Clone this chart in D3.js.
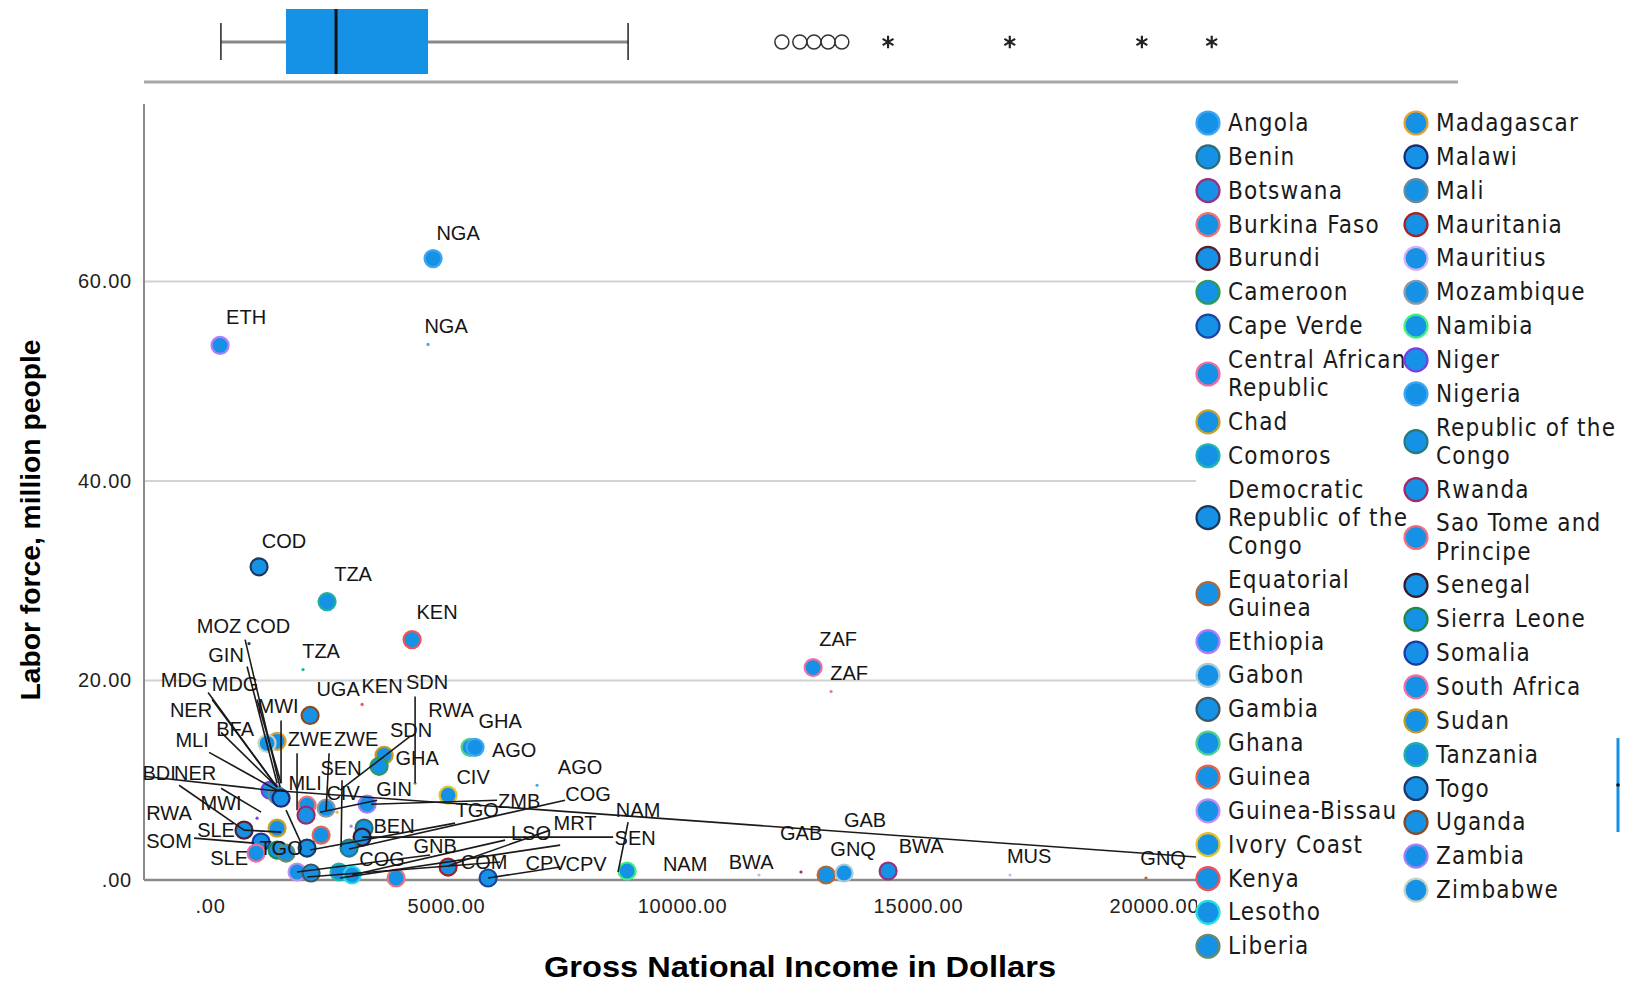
<!DOCTYPE html>
<html>
<head>
<meta charset="utf-8">
<script src="https://cdn.jsdelivr.net/npm/d3@7"></script>
<style>
body { margin: 0; background: #fff; }
svg { display: block; font-family: "Liberation Sans", Arial, sans-serif; }
.leg { font-family: "DejaVu Sans Condensed", "DejaVu Sans", sans-serif; font-size: 24px; font-stretch: condensed; letter-spacing: 1.2px; fill: #1a1a1a; }
</style>
</head>
<body>
<svg width="1633" height="984"></svg>
<script>
// legend entries, in legend order
const countries = ["Angola", "Benin", "Botswana", "Burkina Faso", "Burundi", "Cameroon", "Cape Verde",
    "Central African Republic", "Chad", "Comoros", "Democratic Republic of the Congo", "Equatorial Guinea",
    "Ethiopia", "Gabon", "Gambia", "Ghana", "Guinea", "Guinea-Bissau", "Ivory Coast", "Kenya", "Lesotho", "Liberia",
    "Madagascar", "Malawi", "Mali", "Mauritania", "Mauritius", "Mozambique", "Namibia", "Niger", "Nigeria",
    "Republic of the Congo", "Rwanda", "Sao Tome and Principe", "Senegal", "Sierra Leone", "Somalia",
    "South Africa", "Sudan", "Tanzania", "Togo", "Uganda", "Zambia", "Zimbabwe"];
const codes = ["AGO", "BEN", "BWA", "BFA", "BDI", "CMR", "CPV", "CAF", "TCD", "COM", "COD", "GNQ", "ETH", "GAB",
    "GMB", "GHA", "GIN", "GNB", "CIV", "KEN", "LSO", "LBR", "MDG", "MWI", "MLI", "MRT", "MUS", "MOZ", "NAM", "NER",
    "NGA", "COG", "RWA", "STP", "SEN", "SLE", "SOM", "ZAF", "SDN", "TZA", "TGO", "UGA", "ZMB", "ZWE"];

// main series (large markers)
const bigCode = ["NGA", "ETH", "COD", "TZA", "KEN", "ZAF", "UGA", "MDG", "ZWE", "GHA", "AGO", "SDN", "CMR", "NER",
    "MLI", "MWI", "BFA", "RWA", "MOZ", "ZMB", "CIV", "BDI", "TCD", "GIN", "BEN", "SEN", "SOM", "CAF", "SLE", "LBR",
    "TGO", "GNB", "GMB", "COG", "COM", "LSO", "STP", "MRT", "CPV", "NAM", "GNQ", "GAB", "BWA"];
const bigGni = [4725, 212, 1038, 2479, 4280, 12778, 2119, 1420, 1208, 5509, 5615, 3687, 3581, 1271,
    1420, 1504, 2055, 2034, 2458, 3327, 5043, 720, 1420, 2352, 3263, 3221, 1081, 975, 1420, 1610,
    2055, 1843, 2140, 2945, 2733, 3009, 3941, 5043, 5891, 8836, 13053, 13434, 14366];
const bigLabor = [62.3, 53.6, 31.4, 27.9, 24.1, 21.3, 16.5, 13.9, 13.7, 13.3, 13.3, 12.5, 11.4, 9.0,
    8.5, 8.2, 7.5, 6.5, 7.2, 7.6, 8.5, 5.0, 5.2, 4.5, 5.2, 4.3, 3.8, 2.7, 3.0, 2.7,
    3.2, 0.8, 0.7, 3.2, 0.8, 0.5, 0.2, 1.3, 0.2, 0.9, 0.5, 0.7, 0.9];

// second series (tiny markers)
const smallCode = ["NGA", "ZAF", "AGO", "TZA", "KEN", "COD", "MUS", "GNQ", "BWA", "GAB", "SDN", "NER", "RWA", "CIV", "ZMB"];
const smallGni = [4619, 13158, 6929, 1970, 3221, 826, 16950, 19830, 12520, 11630, 4344, 996, 1504, 2691, 2988];
const smallLabor = [53.7, 18.9, 9.5, 21.1, 17.6, 23.7, 0.5, 0.2, 0.8, 0.5, 9.7, 6.2, 4.8, 6.8, 5.4];

// point labels, placed in data units
const labelText = ["NGA", "NGA", "ETH", "COD", "TZA", "KEN", "ZAF", "ZAF", "MOZ", "COD", "TZA", "GIN", "MDG", "MDG",
    "UGA", "KEN", "SDN", "MWI", "NER", "RWA", "GHA", "BFA", "SDN", "ZWE", "ZWE", "MLI", "AGO", "GHA", "SEN", "AGO",
    "BDI", "NER", "CIV", "MLI", "CIV", "GIN", "COG", "ZMB", "TGO", "NAM", "MWI", "RWA", "MRT", "BEN", "SLE", "LSO",
    "SEN", "SOM", "GNB", "TGO", "GAB", "GAB", "SLE", "COG", "COM", "CPV", "CPV", "NAM", "BWA", "GNQ", "BWA", "MUS", "GNQ"];
const labelGni = [5255, 5001, 763, 1568, 3030, 4810, 13307, 13540, 191, 1229, 2352, 339, -551, 530,
    2712, 3645, 4598, 1441, -403, 5107, 6145, 530, 4259, 2119, 3094, -381, 6442, 4386, 2776, 7840,
    -1080, -318, 5573, 2013, 2818, 3899, 8010, 6548, 5658, 9069, 233, -869, 7734, 3899, 127, 6802,
    9006, -869, 4768, 1504, 12523, 13879, 403, 3645, 5806, 7120, 7967, 10065, 11463, 13625, 15066, 17355, 20194];
const labelLabor = [64.9, 55.5, 56.4, 34.0, 30.7, 26.9, 24.2, 20.8, 25.5, 25.5, 23.0, 22.6, 20.1, 19.7,
    19.1, 19.4, 19.9, 17.4, 17.0, 17.0, 15.9, 15.1, 15.0, 14.1, 14.1, 14.0, 13.0, 12.2, 11.2, 11.3,
    10.7, 10.7, 10.3, 9.7, 8.7, 9.1, 8.6, 7.9, 7.0, 7.0, 7.7, 6.7, 5.7, 5.4, 5.0, 4.7,
    4.2, 3.9, 3.4, 3.2, 4.7, 6.0, 2.2, 2.1, 1.8, 1.7, 1.6, 1.6, 1.8, 3.1, 3.4, 2.4, 2.2];

// leader lines [gni0, labor0, gni1, labor1]
const leaders = [
    [-1399, 10.4, 1271, 9.0], [1271, 9.0, 20893, 2.3], [6081, 8.0, 3412, 7.6], [5192, 5.7, 2119, 3.0],
    [8540, 4.3, 3221, 4.3], [7522, 8.0, 2945, 3.1], [6251, 4.0, 3009, 0.5], [7205, 5.0, 5043, 1.4],
    [4662, 2.5, 1843, 0.8], [7417, 1.3, 5891, 0.2], [8857, 5.8, 8645, 0.8], [3539, 8.0, 2331, 6.8],
    [4344, 18.4, 4344, 9.7], [4238, 14.4, 2755, 9.0], [742, 24.1, 1483, 9.3], [784, 21.4, 1420, 9.7],
    [-42, 18.8, 1420, 9.3], [42, 18.1, 1420, 9.3], [-21, 12.8, 1420, 9.0], [233, 14.8, 1420, 9.3],
    [996, 18.1, 1504, 9.7], [1504, 16.0, 1504, 9.7], [1843, 12.7, 1843, 7.0], [2522, 12.7, 2458, 7.0],
    [2797, 10.0, 2776, 3.3], [-657, 9.5, 720, 5.0], [233, 9.2, 1081, 6.8], [720, 5.0, 1504, 4.8],
    [-339, 4.2, 932, 3.7], [1610, 7.0, 1928, 3.7], [2055, 0.3, 6145, 1.8], [2755, 0.2, 7417, 3.5]
];

// box plot of income: min, Q1, median, Q3, upper whisker, outliers, extremes
const boxStats = [230, 1610, 2670, 4620, 8860];
const boxOutliers = [12120, 12500, 12800, 13100, 13390];
const boxExtremes = [14370, 16950, 19750, 21230];

const xTicks = [0, 5000, 10000, 15000, 20000];
const yTicks = [0, 20, 40, 60];

// outline colour per legend entry
const outlineColors = ["#3fa6f2", "#2b6e78", "#9b2f7d", "#f07272", "#5a1f2e", "#2e9a5a", "#1d45a0", "#f06ba0",
    "#c9a12c", "#22b3b3", "#1b3a5a", "#b0683a", "#b27dff", "#a8cbd8", "#3b5966", "#4fd08e", "#e4674f", "#c08ff2",
    "#e3c22c", "#f25252", "#22e0e0", "#6b8a6a", "#e3a02c", "#1b2b7a", "#6b8a99", "#a82020", "#d6b2f2", "#8b9aa8",
    "#3ff07e", "#7a3fe3", "#3fa6f2", "#2a7a7a", "#a02a6a", "#f27080", "#3a1a2a", "#1f8a4a", "#1b3aa6", "#f070a0",
    "#c29a1e", "#1fb0a0", "#1b3a6a", "#8a4a20", "#a27ff2", "#c4d4c4"];
const fillBlue = "#1591e6";
const colorOf = {};
codes.forEach((c, i) => colorOf[c] = outlineColors[i]);

let svg = d3.select("svg");

let x = d3.scaleLinear().domain([-1400, 20890]).range([144, 1196]);
let y = d3.scaleLinear().domain([0, 77.8]).range([880, 104]);
let xBox = d3.scaleLinear().domain([-1400, 26450]).range([144, 1458]);

let fmt = d => d === 0 ? ".00" : d3.format(".2f")(d);

// gridlines
svg.append("g").selectAll("line")
    .data(yTicks.filter(d => d > 0))
    .enter().append("line")
    .attr("x1", x.range()[0]).attr("x2", x.range()[1])
    .attr("y1", d => y(d)).attr("y2", d => y(d))
    .attr("stroke", "#d2d2d2").attr("stroke-width", 2);

// axes
let xAxis = svg.append("g")
    .attr("transform", "translate(0," + y(0) + ")")
    .call(d3.axisBottom(x).tickValues(xTicks).tickFormat(fmt).tickSize(0).tickPadding(19));
let yAxis = svg.append("g")
    .attr("transform", "translate(" + x.range()[0] + ",0)")
    .call(d3.axisLeft(y).tickValues(yTicks).tickFormat(fmt).tickSize(0).tickPadding(12));
[xAxis, yAxis].forEach(a => {
    a.select(".domain").remove();
    a.selectAll("text").attr("font-size", 20).attr("letter-spacing", "0.8px")
        .attr("fill", "#222").attr("font-family", "Liberation Sans, Arial, sans-serif");
});
svg.append("line")
    .attr("x1", x.range()[0]).attr("x2", x.range()[0])
    .attr("y1", y.range()[1]).attr("y2", y(0))
    .attr("stroke", "#8a8a8a").attr("stroke-width", 2);
svg.append("line")
    .attr("x1", x.range()[0]).attr("x2", x.range()[1])
    .attr("y1", y(0)).attr("y2", y(0))
    .attr("stroke", "#8a8a8a").attr("stroke-width", 2.5);

// tiny markers
svg.append("g").selectAll("circle")
    .data(smallCode)
    .enter().append("circle")
    .attr("cx", (d, i) => x(smallGni[i]))
    .attr("cy", (d, i) => y(smallLabor[i]))
    .attr("r", 1.6)
    .attr("fill", d => colorOf[d]);

// big markers
svg.append("g").selectAll("circle")
    .data(bigCode)
    .enter().append("circle")
    .attr("cx", (d, i) => x(bigGni[i]))
    .attr("cy", (d, i) => y(bigLabor[i]))
    .attr("r", 8.5)
    .attr("fill", fillBlue)
    .attr("stroke", d => colorOf[d])
    .attr("stroke-width", 2.2);

// leader lines
svg.append("g").selectAll("line")
    .data(leaders)
    .enter().append("line")
    .attr("x1", d => x(d[0])).attr("y1", d => y(d[1]))
    .attr("x2", d => x(d[2])).attr("y2", d => y(d[3]))
    .attr("stroke", "#1a1a1a").attr("stroke-width", 1.6);

// point labels
svg.append("g").selectAll("text")
    .data(labelText)
    .enter().append("text")
    .attr("x", (d, i) => x(labelGni[i]))
    .attr("y", (d, i) => y(labelLabor[i]))
    .attr("text-anchor", "middle")
    .attr("dominant-baseline", "central")
    .attr("font-size", 20)
    .attr("fill", "#151515")
    .text(d => d);

// axis titles
svg.append("text")
    .attr("x", 800).attr("y", 977)
    .attr("text-anchor", "middle")
    .attr("font-size", 30).attr("font-weight", "bold")
    .attr("textLength", 512).attr("lengthAdjust", "spacingAndGlyphs")
    .text("Gross National Income in Dollars");
svg.append("text")
    .attr("transform", "translate(40,520) rotate(-90)")
    .attr("text-anchor", "middle")
    .attr("font-size", 28).attr("font-weight", "bold")
    .attr("textLength", 361).attr("lengthAdjust", "spacingAndGlyphs")
    .text("Labor force, million people");

// box plot on top
let bp = svg.append("g");
let bpY = 42;
bp.append("line")
    .attr("x1", xBox.range()[0]).attr("x2", xBox.range()[1])
    .attr("y1", 82).attr("y2", 82)
    .attr("stroke", "#a8a8a8").attr("stroke-width", 3);
bp.selectAll(".whisk")
    .data([[boxStats[0], boxStats[1]], [boxStats[3], boxStats[4]]])
    .enter().append("line")
    .attr("x1", d => xBox(d[0])).attr("x2", d => xBox(d[1]))
    .attr("y1", bpY).attr("y2", bpY)
    .attr("stroke", "#888").attr("stroke-width", 3);
bp.selectAll(".cap")
    .data([boxStats[0], boxStats[4]])
    .enter().append("line")
    .attr("x1", d => xBox(d)).attr("x2", d => xBox(d))
    .attr("y1", 23).attr("y2", 60)
    .attr("stroke", "#222").attr("stroke-width", 1.5);
bp.append("rect")
    .attr("x", xBox(boxStats[1]))
    .attr("width", xBox(boxStats[3]) - xBox(boxStats[1]))
    .attr("y", 9).attr("height", 65)
    .attr("fill", fillBlue);
bp.append("line")
    .attr("x1", xBox(boxStats[2])).attr("x2", xBox(boxStats[2]))
    .attr("y1", 9).attr("y2", 74)
    .attr("stroke", "#111").attr("stroke-width", 3);
bp.selectAll(".out")
    .data(boxOutliers)
    .enter().append("circle")
    .attr("cx", d => xBox(d)).attr("cy", bpY)
    .attr("r", 7)
    .attr("fill", "none").attr("stroke", "#333").attr("stroke-width", 1.5);
bp.selectAll(".ext")
    .data(boxExtremes)
    .enter().append("path")
    .attr("transform", d => "translate(" + xBox(d) + "," + bpY + ")")
    .attr("d", d3.symbol().type(d3.symbolAsterisk).size(110))
    .attr("fill", "none")
    .attr("stroke", "#222").attr("stroke-width", 2.2);

// legend
let legend = svg.append("g");
legend.append("rect")
    .attr("x", 1197).attr("y", 95)
    .attr("width", 436).attr("height", 889)
    .attr("fill", "#fff");

function wrapLines(name, maxW) {
    let words = name.split(" "), lines = [], line = [];
    let probe = legend.append("text").attr("class", "leg");
    words.forEach(w => {
        line.push(w);
        probe.text(line.join(" "));
        if (probe.node().getComputedTextLength() > maxW && line.length > 1) {
            line.pop();
            lines.push(line.join(" "));
            line = [w];
        }
    });
    lines.push(line.join(" "));
    probe.remove();
    return lines;
}

let colX = [1208, 1416];
let perCol = 22, lineGap = 28.1, itemGap = 33.85;
[0, 1].forEach(col => {
    let yCur = 123;
    countries.slice(col * perCol, (col + 1) * perCol).forEach((name, k) => {
        let idx = col * perCol + k;
        let lines = wrapLines(name, 190);
        let item = legend.append("g");
        item.append("circle")
            .attr("cx", colX[col])
            .attr("cy", yCur + (lines.length - 1) * lineGap / 2)
            .attr("r", 11.5)
            .attr("fill", fillBlue)
            .attr("stroke", outlineColors[idx])
            .attr("stroke-width", 2.2);
        item.selectAll("text")
            .data(lines)
            .enter().append("text")
            .attr("class", "leg")
            .attr("x", colX[col] + 20)
            .attr("y", (d, i) => yCur + i * lineGap)
            .attr("dominant-baseline", "central")
            .text(d => d);
        yCur += (lines.length - 1) * lineGap + itemGap;
    });
});

// marginal labour-force strip on the far right
let laborExtent = d3.extent(bigLabor);
let yMarg = d3.scaleLinear().domain(laborExtent).range([832, 738]);
svg.append("line")
    .attr("x1", 1618).attr("x2", 1618)
    .attr("y1", yMarg(laborExtent[0])).attr("y2", yMarg(laborExtent[1]))
    .attr("stroke", fillBlue).attr("stroke-width", 3);
svg.append("circle")
    .attr("cx", 1618).attr("cy", yMarg(d3.mean(laborExtent)))
    .attr("r", 1.8).attr("fill", "#111");
</script>
</body>
</html>
